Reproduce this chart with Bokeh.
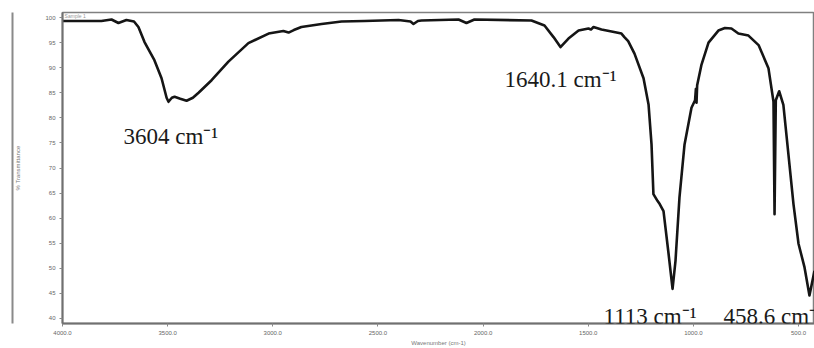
from bokeh.plotting import figure
from bokeh.models import Range1d, FixedTicker, Label, LinearAxis
from bokeh.embed import file_html
from bokeh.resources import INLINE

# Wavenumber (cm^-1) and % transmittance
wavenumber = [4000, 3900, 3815, 3767, 3734, 3696, 3660, 3639, 3610, 3563,
              3529, 3505, 3496, 3480, 3467, 3440, 3410, 3380, 3353, 3291,
              3211, 3116, 3020, 2950, 2925, 2900, 2864, 2768, 2673, 2564,
              2402, 2345, 2331, 2310, 2293, 2117, 2079, 2041, 1770, 1708,
              1665, 1632, 1594, 1546, 1499, 1487, 1475, 1437, 1389, 1342,
              1328, 1310, 1280, 1237, 1213, 1199, 1190, 1170, 1160, 1142,
              1118, 1099, 1085, 1066, 1042, 1009, 992, 988, 985, 982,
              962, 928, 881, 850, 819, 786, 738, 690, 643, 619,
              614, 608, 592, 572, 548, 524, 500, 472, 448, 424]
transmittance = [99.3, 99.3, 99.3, 99.6, 98.9, 99.5, 99.2, 98.1, 95.1, 91.5,
                 87.9, 84.0, 83.2, 84.0, 84.2, 83.8, 83.4, 84.0, 85.0, 87.5,
                 91.2, 94.9, 96.8, 97.3, 97.0, 97.5, 98.1, 98.7, 99.2, 99.3,
                 99.5, 99.2, 98.7, 99.3, 99.4, 99.6, 98.9, 99.6, 99.4, 98.4,
                 96.1, 94.1, 95.8, 97.4, 97.8, 97.6, 98.1, 97.6, 97.2, 96.8,
                 96.1, 95.3, 92.8, 87.9, 82.6, 74.7, 64.8, 63.4, 62.8, 61.4,
                 52.9, 45.9, 51.5, 64.2, 74.7, 82.0, 83.5, 85.8, 83.0, 86.5,
                 90.5, 95.0, 97.4, 97.9, 97.8, 96.8, 96.4, 94.5, 89.9, 83.2,
                 60.8, 83.5, 85.3, 82.6, 72.7, 62.8, 54.9, 50.3, 44.6, 49.5]

x_ticks = [4000, 3500, 3000, 2500, 2000, 1500, 1000, 500]
y_ticks = [40, 45, 50, 55, 60, 65, 70, 75, 80, 85, 90, 95, 100]

# Peak annotations: text and anchor (wavenumber, %T) of the text's left baseline
peak_texts = ["3604 cm\u207b\u00b9", "1640.1 cm\u207b\u00b9", "1113 cm\u207b\u00b9", "458.6 cm\u207b\u00b9"]
peak_text_x = [3710, 1898, 1427, 857]
peak_text_y = [76.3, 87.6, 40.4, 40.4]

p = figure(width=814, height=348, output_backend="svg", toolbar_location=None,
           x_range=Range1d(4000, 424), y_range=Range1d(39.0, 101.0),
           min_border_left=62, min_border_right=0, min_border_top=12, min_border_bottom=23)
p.background_fill_color = "white"
p.border_fill_color = "white"
p.outline_line_color = "#808080"
p.outline_line_width = 1.5
p.xgrid.visible = False
p.ygrid.visible = False

p.line(wavenumber, transmittance, line_color="#151515", line_width=2.6, line_join="round")

for ax in (p.xaxis[0], p.yaxis[0]):
    ax.axis_line_color = "#707070"
    ax.axis_line_width = 2
    ax.major_tick_line_color = "#888888"
    ax.major_tick_out = 3
    ax.major_tick_in = 0
    ax.minor_tick_line_color = None
    ax.major_label_text_font_size = "6px"
    ax.major_label_text_color = "#666666"
    ax.axis_label_text_font_size = "6px"
    ax.axis_label_text_color = "#777777"
    ax.axis_label_text_font_style = "normal"

p.xaxis.ticker = FixedTicker(ticks=x_ticks)
p.yaxis.ticker = FixedTicker(ticks=y_ticks)
p.xaxis.major_label_overrides = {t: f"{t:.1f}" for t in x_ticks}
p.xaxis.axis_label = "Wavenumber (cm-1)"
p.yaxis.axis_label = "% Transmittance"
p.xaxis.axis_label_standoff = 2
p.yaxis.axis_label_standoff = 21
p.xaxis.major_label_standoff = 4
p.yaxis.major_label_standoff = 4

# outer picture border on the left: a bare axis line outside the main y axis
border_axis = LinearAxis(ticker=FixedTicker(ticks=[]), axis_line_color="#8a8a8a",
                         axis_line_width=2, major_tick_line_color=None,
                         minor_tick_line_color=None, major_label_text_font_size="0px")
p.add_layout(border_axis, "left")

p.add_layout(Label(x=3990, y=100.4, text="Sample 1", text_font_size="5px",
                   text_color="#999999", text_baseline="middle"))

for t, tx, ty in zip(peak_texts, peak_text_x, peak_text_y):
    p.add_layout(Label(x=tx, y=ty, text=t, text_font="Liberation Serif",
                       text_font_size="23px", text_color="#1a1a1a",
                       text_baseline="alphabetic"))

open("out.html", "w").write(file_html(p, INLINE))
